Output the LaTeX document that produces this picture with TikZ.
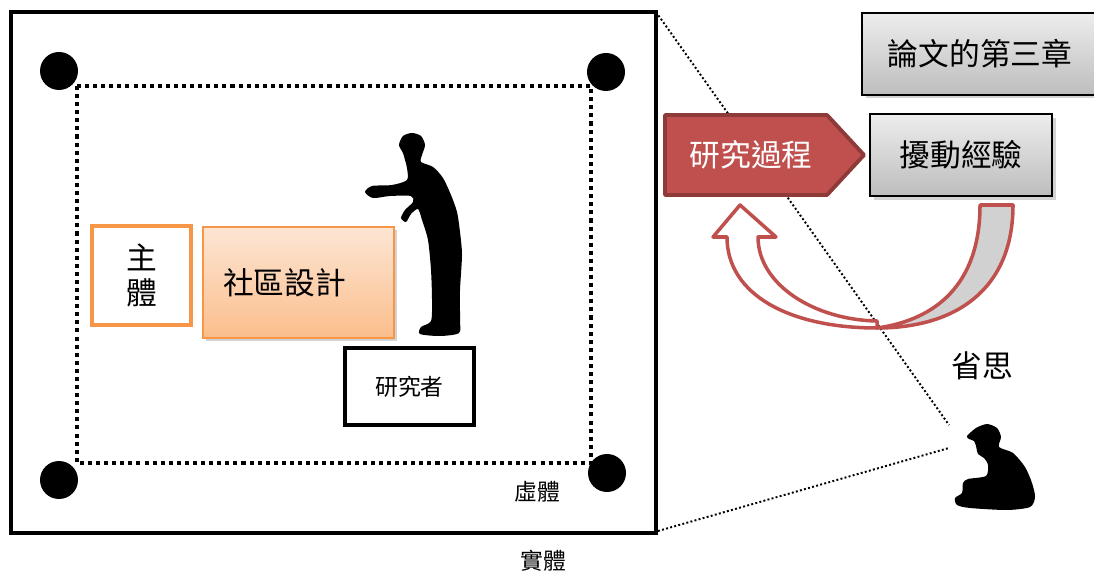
\documentclass[tikz,border=0pt]{standalone}
\usepackage{fontspec}
\setmainfont{Noto Sans CJK TC}
\usepackage{tikz}
\usetikzlibrary{shadows}

\definecolor{pptorange}{HTML}{F79646}
\definecolor{peachtop}{HTML}{FDE6D4}
\definecolor{peachbot}{HTML}{FBBE8C}
\definecolor{pptred}{HTML}{C0504D}
\definecolor{pptdarkred}{HTML}{8E3A38}
\definecolor{greytop}{HTML}{EDEDED}
\definecolor{greybot}{HTML}{BDBDBD}

\tikzset{
        bigtext/.style={font=\fontsize{17.5}{20}\selectfont},
        smalltext/.style={font=\fontsize{13}{15}\selectfont},
        subjectbox/.style={draw=pptorange, line width=2.3pt, fill=white,
            minimum width=1.98cm, minimum height=1.98cm, inner sep=0pt,
            align=center, bigtext},
        designbox/.style={draw=pptorange, line width=0.8pt,
            top color=peachtop, bottom color=peachbot,
            minimum width=3.82cm, minimum height=2.22cm,
            inner xsep=0.40cm, text width=3.02cm, align=left, bigtext,
            drop shadow={shadow xshift=1.5pt, shadow yshift=-1.5pt, opacity=0.35}},
        researcherbox/.style={draw=black, line width=2.3pt, fill=white,
            minimum width=2.58cm, minimum height=1.54cm, smalltext},
        greybox/.style={draw=black, line width=1.6pt,
            top color=greytop, bottom color=greybot,
            minimum width=#1, minimum height=1.64cm, bigtext,
            drop shadow={shadow xshift=2pt, shadow yshift=-2pt, opacity=0.35}},
        corner/.style={fill=black},
        thinline/.style={line width=1.1pt, dash pattern=on 1.1pt off 1.3pt},
        loopband/.style={draw=pptred, line width=2pt, line join=round},
    }

\begin{document}
\begin{tikzpicture}[x=0.02cm, y=-0.02cm]
    \useasboundingbox (0,0) rectangle (1094,573);

    % outer frame, inner dotted frame and the four corner dots
    \draw[line width=2.3pt] (11,12) rectangle (656,533);
    \draw[line width=2.3pt, dash pattern=on 2.3pt off 2.3pt] (77,86) rectangle (591,463);
    \foreach \cx/\cy in {59/71, 606/72, 59/480, 607/473}
        \fill[corner] (\cx,\cy) circle (19);

    \coordinate (frameTR) at (656,12);
    \coordinate (frameBR) at (658,531);
    \coordinate (eyeTop) at (949,425);
    \coordinate (eyeBot) at (949,448);

    % boxes inside the frame
    \node[subjectbox] (subject) at (141.5,275.5) {主\\體};
    \node[designbox] (design) at (298.5,282.5) {社區設計};
    \node[researcherbox] (researcher) at (409.5,386.5) {研究者};
    \node[smalltext] (virtual) at (537,492) {虛體};
    \node[smalltext] (real) at (543,561) {實體};

    % standing figure
    \fill[black] plot[smooth cycle, tension=0.45] coordinates {
        (403,153) (399,145) (403,136) (412,133) (421,136) (425,145) (422,155)
        (421,162) (433,167) (443,178) (451,195) (457,212) (460,232) (462,255)
        (460,290) (460,320) (459,333) (440,336) (420,334) (421,327) (431,321)
        (432,300) (431,270) (428,240) (422,220) (418,209) (411,214) (406,222)
        (401,218) (405,210) (413,202) (411,196) (390,196) (373,198) (365,192)
        (372,186) (392,185) (407,180) (407,168) (405,160)};

    % sitting figure
    \fill[black] plot[smooth cycle, tension=0.45] coordinates {
        (967,436) (976,428) (987,424) (997,428) (1001,437) (999,447) (1013,453)
        (1025,467) (1032,483) (1035,497) (1030,507) (1007,510) (970,508)
        (957,505) (955,498) (962,493) (963,483) (968,479) (986,476) (988,465)
        (984,458) (978,454) (976,446) (974,441) (969,439)};

    % lines of sight
    \draw[thinline] (frameTR) -- (eyeTop);
    \draw[thinline] (frameBR) -- (eyeBot);

    % right hand side
    \node[greybox=4.72cm] (chapter) at (980,54) {論文的第三章};
    \draw[fill=pptred, draw=pptdarkred, line width=2.2pt, line join=round]
        (665,115) -- (827,115) -- (864,155) -- (827,195) -- (665,195) -- cycle;
    \node[bigtext, text=white] (process) at (751,155) {研究過程};
    \node[greybox=3.64cm] (disturb) at (961,155) {擾動經驗};

    % curved return arrow
    \filldraw[loopband, fill=black!18]
        (1013,205) .. controls (1013,290) and (955,328) .. (877,328)
        .. controls (935,320) and (980,285) .. (980,205) -- cycle;
    \filldraw[loopband, fill=white]
        (877,328) .. controls (790,328) and (727,295) .. (727,237)
        -- (713,237) -- (740,205) -- (776,237) -- (758,237)
        .. controls (758,285) and (815,320) .. (877,321) -- cycle;
    \node[bigtext] (reflect) at (982,366) {省思};
\end{tikzpicture}
\end{document}
